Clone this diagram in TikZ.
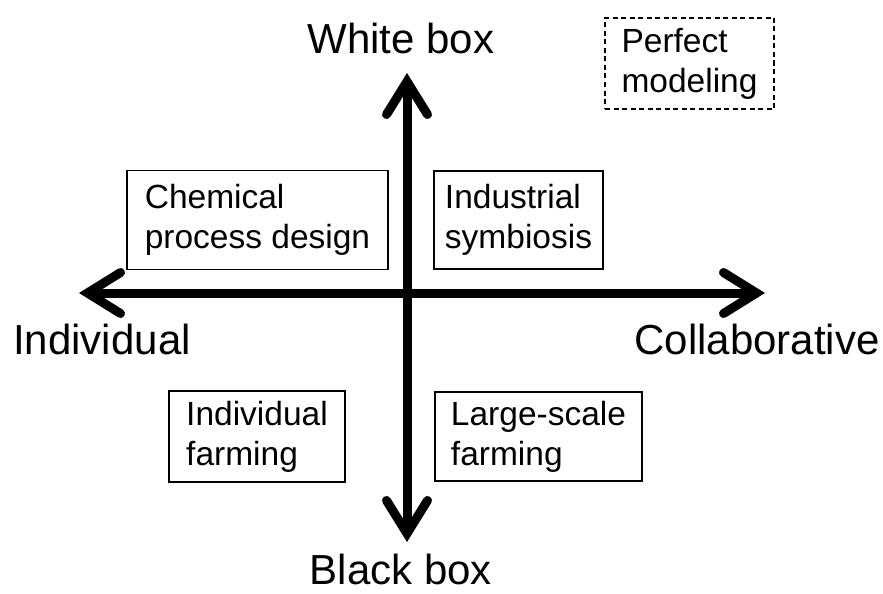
\documentclass[tikz,border=0pt]{standalone}
\usepackage{fontspec}
\setmainfont{Liberation Sans}
\usetikzlibrary{arrows.meta}
\begin{document}
\begin{tikzpicture}[x=1pt,y=-1pt,
  barb/.tip={Straight Barb[line cap=round,line join=miter,length=33pt,width=41pt]},
  axis/.style={line width=9pt,barb-barb},
  axislabel/.style={anchor=base,inner sep=0pt,font=\fontsize{42}{46}\selectfont},
  quadbox/.style={draw,line width=1.2pt,align=left,inner xsep=0pt,inner ysep=0pt,
    font=\fontsize{33.5}{40}\selectfont},
  idealbox/.style={quadbox,dashed,dash pattern=on 5pt off 3.5pt}]
\useasboundingbox (0,0) rectangle (883,594);

% axes
\coordinate (west) at (79,293);
\coordinate (east) at (765,293);
\coordinate (north) at (407,73);
\coordinate (south) at (407,542);
\draw[axis] (west) -- (east);
\draw[axis] (south) -- (north);

% axis labels
\node[axislabel] (white) at (401,54) {White box};
\node[axislabel] (black) at (401,584) {Black box};
\node[axislabel] (indiv) at (102,354) {Individual};
\node[axislabel] (collab) at (757,354) {Collaborative};

% quadrant examples
\node[quadbox,minimum width=261pt,minimum height=99pt] (chem) at (257.5,220) {Chemical\\process design};
\node[quadbox,minimum width=169pt,minimum height=98pt] (symb) at (518.5,220) {Industrial\\symbiosis};
\node[quadbox,minimum width=176pt,minimum height=91pt] (farm) at (257,436.5) {Individual\\farming};
\node[quadbox,minimum width=207pt,minimum height=89pt] (large) at (538.5,436.5) {Large-scale\\farming};
\node[idealbox,minimum width=169pt,minimum height=91pt] (perfect) at (689.5,63.5) {Perfect\\modeling};
\end{tikzpicture}
\end{document}
